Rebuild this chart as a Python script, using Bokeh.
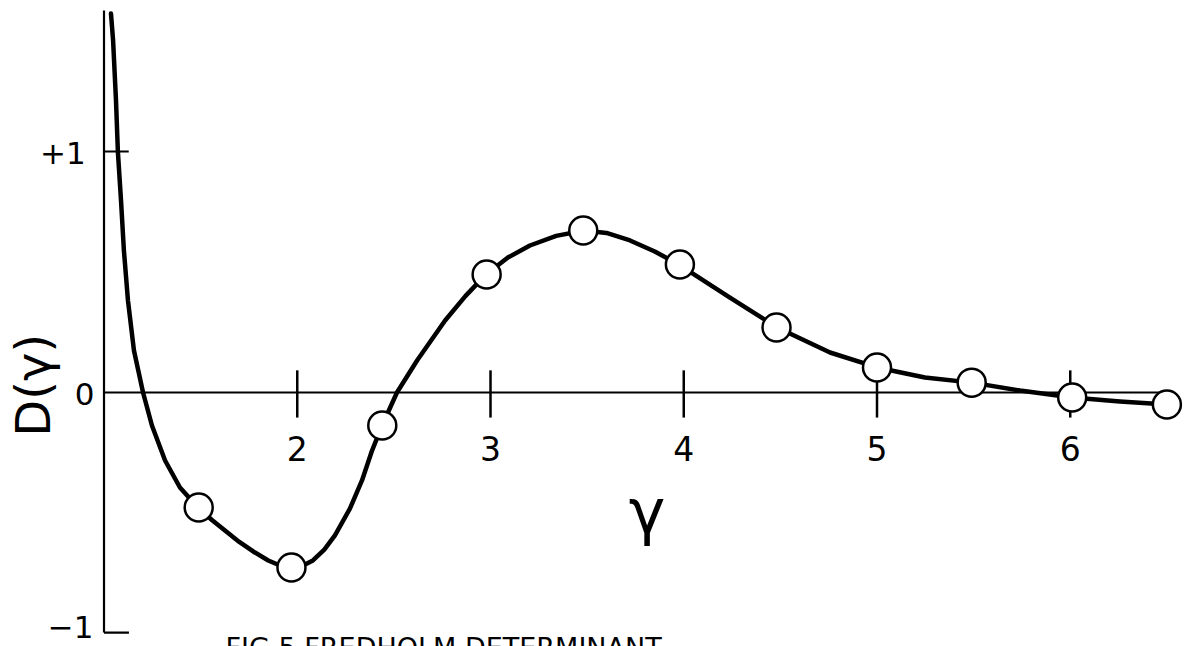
import math
from bokeh.plotting import figure
from bokeh.models import ColumnDataSource, Label
from bokeh.core.properties import value
from bokeh.embed import file_html
from bokeh.resources import INLINE

# Computed values of the Fredholm determinant D(gamma)
gamma_pts = [1.49, 1.97, 2.44, 2.98, 3.48, 3.98, 4.48, 5.0, 5.49, 6.01, 6.5]
d_pts = [-0.477, -0.726, -0.137, 0.490, 0.672, 0.531, 0.270, 0.104, 0.041, -0.021, -0.050]

# Smooth curve drawn through the computed values
gamma_curve = [1.036, 1.047, 1.062, 1.072, 1.088, 1.103, 1.124, 1.155, 1.202, 1.248,
               1.316, 1.393, 1.486, 1.560, 1.626, 1.700, 1.781, 1.850, 1.911, 1.973,
               2.030, 2.081, 2.140, 2.195, 2.273, 2.335, 2.387, 2.439, 2.516, 2.620,
               2.765, 2.870, 2.977, 3.090, 3.204, 3.340, 3.484, 3.600, 3.722, 3.850,
               3.975, 4.239, 4.483, 4.757, 5.000, 5.248, 5.492, 5.740, 6.009, 6.257,
               6.501]
d_curve = [1.573, 1.461, 1.212, 0.996, 0.797, 0.589, 0.382, 0.174, 0.0, -0.137,
           -0.282, -0.394, -0.477, -0.530, -0.573, -0.620, -0.664, -0.697, -0.718, -0.726,
           -0.718, -0.697, -0.652, -0.593, -0.481, -0.365, -0.241, -0.137, 0.0, 0.133,
           0.299, 0.400, 0.490, 0.560, 0.610, 0.650, 0.672, 0.662, 0.631, 0.585,
           0.531, 0.394, 0.270, 0.166, 0.104, 0.062, 0.041, 0.008, -0.021, -0.037,
           -0.050]

# Axis ticks and labels
x_ticks = [2, 3, 4, 5, 6]
x_tick_labels = ["2", "3", "4", "5", "6"]
y_tick_values = [1, 0, -1]
y_tick_labels = ["+1", "0", "\u22121"]

x_label = "\u03b3"
y_label = "D(\u03b3)"
caption = "FIG.5  FREDHOLM DETERMINANT"

W, H = 1187, 646
p = figure(width=W, height=H, output_backend="svg", toolbar_location=None,
           x_range=(0.4644, 6.6067), y_range=(-1.0539, 1.6266),
           x_axis_location=None, y_axis_location=None, min_border=0,
           background_fill_color="white", border_fill_color="white")
p.outline_line_color = None
p.grid.visible = False

ink = "#000000"
font = value("DejaVu Sans")

# vertical axis with its foot and the +1 tick
p.segment(x0=[1.0], y0=[1.585], x1=[1.0], y1=[-0.996], line_color=ink, line_width=2.2)
p.segment(x0=[1.0], y0=[-0.996], x1=[1.129], y1=[-0.996], line_color=ink, line_width=2.2)
p.segment(x0=[1.0], y0=[1.0], x1=[1.128], y1=[1.0], line_color=ink, line_width=2.2)

# zero line and crossing ticks
p.segment(x0=[1.0], y0=[0.0], x1=[6.5], y1=[0.0], line_color=ink, line_width=2.2)
p.segment(x0=x_ticks, y0=[0.092] * len(x_ticks), x1=x_ticks, y1=[-0.104] * len(x_ticks),
          line_color=ink, line_width=2.5)

# curve and computed points
p.line(gamma_curve, d_curve, line_color=ink, line_width=4.5, line_join="round", line_cap="round")
p.scatter(gamma_pts, d_pts, size=28, marker="circle", fill_color="white",
          line_color=ink, line_width=2.5)

# tick labels
p.text(x=x_ticks, y=[-0.232] * len(x_ticks), text=x_tick_labels, text_font=font,
       text_font_size="33px", text_align="center", text_baseline="alphabetic", text_color=ink)

ytl = ColumnDataSource(dict(x=[0.905, 0.951, 0.945], y=[0.992, -0.008, -0.972],
                            text=y_tick_labels))
p.text(x="x", y="y", text="text", source=ytl, text_font=font, text_font_size="31px",
       text_align="right", text_baseline="alphabetic", text_color=ink)

# axis titles
p.text(x=[3.81], y=[-0.494], text=[x_label], text_font=font, text_font_size="62px",
       text_align="center", text_baseline="alphabetic", text_color=ink)
p.text(x=[0.63], y=[0.03], text=[y_label], text_font=font, text_font_size="48px",
       text_align="center", text_baseline="middle", angle=math.pi / 2, text_color=ink)

p.add_layout(Label(x=1.629, y=-1.058, text=caption, text_font="DejaVu Sans",
                   text_font_size="27px", text_baseline="alphabetic", text_color=ink))

open("out.html", "w").write(file_html(p, INLINE))
